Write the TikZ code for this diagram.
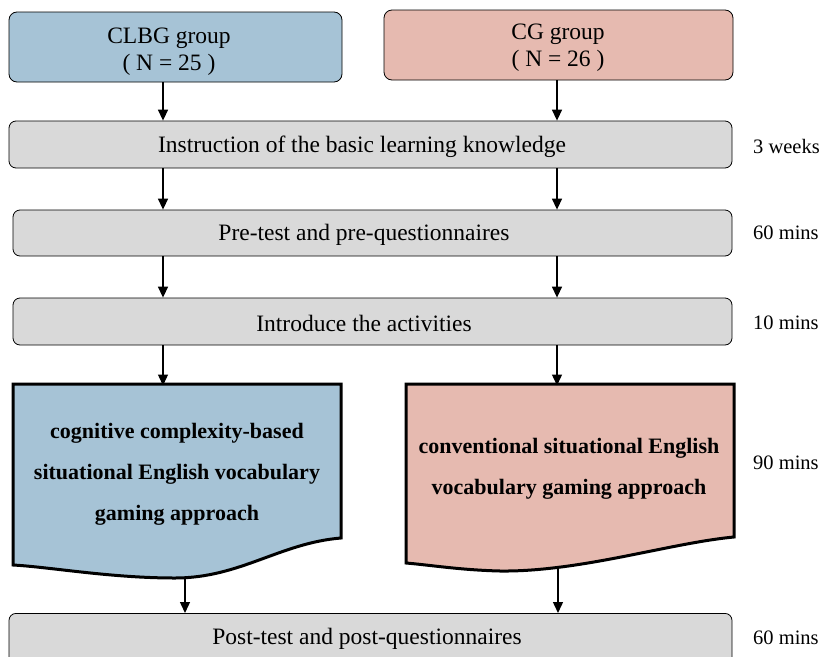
\documentclass[tikz,border=0pt]{standalone}
\usepackage{fontspec}
\setmainfont{Liberation Serif}
\usetikzlibrary{arrows.meta}
\definecolor{cblue}{RGB}{166,195,214}
\definecolor{cpink}{RGB}{230,186,176}
\definecolor{cgray}{RGB}{217,217,217}
\begin{document}
\begin{tikzpicture}[x=1pt,y=-1pt,
  grp/.style={draw=black,line width=0.8pt,rounded corners=8pt,inner sep=0pt},
  grptext/.style={align=center,inner sep=0pt,font=\fontsize{23.5}{27}\selectfont},
  bar/.style={draw=black,line width=0.8pt,fill=cgray,rounded corners=7pt,inner sep=0pt},
  bartext/.style={inner sep=0pt,font=\fontsize{23.5}{26}\selectfont},
  side/.style={anchor=west,inner sep=0pt,font=\fontsize{20.5}{24}\selectfont},
  doctext/.style={align=center,font=\bfseries\fontsize{22}{41}\selectfont},
  arr/.style={-{Triangle[length=11pt,width=10pt]},line width=1.4pt}]
\useasboundingbox (0,0) rectangle (822,656);
% top group boxes
\node[grp,fill=cblue,minimum width=333pt,minimum height=70pt] (clbg) at (175.5,47) {};
\node[grptext] (clbgtext) at (169,52) {CLBG group\\( N = 25 )};
\node[grp,fill=cpink,minimum width=349pt,minimum height=70pt] (cg) at (558.5,45) {};
\node[grptext] (cgtext) at (558,48) {CG group\\( N = 26 )};
% gray bars
\node[bar,minimum width=723pt,minimum height=47pt] (instr) at (370.5,144.5) {};
\node[bartext] (instrtext) at (362,147) {Instruction of the basic learning knowledge};
\node[bar,minimum width=719pt,minimum height=46pt] (pre) at (372.5,233) {};
\node[bartext] (pretext) at (364,235) {Pre-test and pre-questionnaires};
\node[bar,minimum width=719pt,minimum height=47pt] (intro) at (372.5,321.5) {};
\node[bartext] (introtext) at (364,323.5) {Introduce the activities};
\node[bar,minimum width=723pt,minimum height=60pt,anchor=north] (post) at (370.5,613) {};
\node[bartext] (posttext) at (367,639) {Post-test and post-questionnaires};
% document shapes
\draw[fill=cblue,line width=3pt,line join=miter]
  (13,384) -- (341,384) -- (341,538)
  .. controls (280,543) and (240,578) .. (175,578)
  .. controls (110,578) and (50,567) .. (13,565) -- cycle;
\draw[fill=cpink,line width=3pt,line join=miter]
  (406,384) -- (734,384) -- (734,537)
  .. controls (670,543) and (580,572) .. (500,571)
  .. controls (460,570) and (430,565) .. (406,563) -- cycle;
\coordinate (ltop) at (163,384);
\coordinate (rtop) at (557,384);
\coordinate (lbot) at (185,578);
\coordinate (rbot) at (558,567);
\node[doctext] (ltext) at (177,474) {cognitive complexity-based\\situational English vocabulary\\gaming approach};
\node[doctext] (rtext) at (569,469) {conventional situational English\\vocabulary gaming approach};
% side labels
\node[side] (t1) at (753,146) {3 weeks};
\node[side] (t2) at (753,233) {60 mins};
\node[side] (t3) at (753,323) {10 mins};
\node[side] (t4) at (753,463) {90 mins};
\node[side] (t5) at (753,638) {60 mins};
% arrows
\draw[arr] (clbg.south -| 163,0) -- (instr.north -| 163,0);
\draw[arr] (cg.south -| 557,0) -- (instr.north -| 557,0);
\draw[arr] (instr.south -| 163,0) -- (pre.north -| 163,0);
\draw[arr] (instr.south -| 557,0) -- (pre.north -| 557,0);
\draw[arr] (pre.south -| 163,0) -- (intro.north -| 163,0);
\draw[arr] (pre.south -| 557,0) -- (intro.north -| 557,0);
\draw[arr] (intro.south -| 163,0) -- ([yshift=-1.5pt]ltop);
\draw[arr] (intro.south -| 557,0) -- ([yshift=-1.5pt]rtop);
\draw[arr] ([yshift=1.5pt]lbot) -- (post.north -| lbot);
\draw[arr] ([yshift=1.5pt]rbot) -- (post.north -| rbot);
\end{tikzpicture}
\end{document}
